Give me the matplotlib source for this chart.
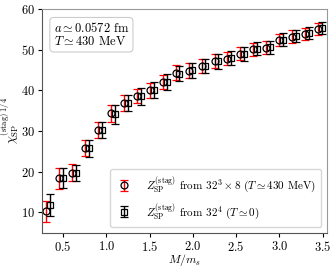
import numpy as np
import matplotlib
matplotlib.use("Agg")
import matplotlib.pyplot as plt

plt.rcParams["font.family"] = "serif"
plt.rcParams["font.serif"] = ["cmr10"]
plt.rcParams["mathtext.fontset"] = "cm"
plt.rcParams["axes.unicode_minus"] = False
plt.rcParams["axes.formatter.use_mathtext"] = True

# M/m_s values for the finite-T set; T=0 set is shifted slightly for readability
mass_ratio = np.arange(22) * 0.15 + 0.3
shift = 0.045

chi_T430 = [10.3, 18.4, 19.8, 25.9, 30.2, 34.3, 36.9, 38.6, 40.0, 42.0, 44.3,
            44.8, 45.9, 47.1, 47.8, 49.0, 50.1, 50.5, 52.4, 53.2, 53.8, 55.0]
err_T430 = [2.6, 2.6, 2.2, 2.0, 2.0, 2.0, 2.0, 1.8, 1.8, 1.8, 1.8,
            1.8, 1.7, 1.7, 1.7, 1.6, 1.6, 1.6, 1.5, 1.5, 1.5, 1.5]

chi_T0 = [11.8, 18.5, 19.7, 25.7, 30.2, 34.1, 36.8, 38.5, 40.0, 42.1, 44.1,
          44.9, 46.0, 47.1, 47.9, 49.0, 50.2, 50.6, 52.4, 53.3, 54.0, 55.3]
err_T0 = [2.8, 2.5, 2.0, 2.2, 2.0, 2.3, 2.0, 2.0, 2.0, 2.0, 1.9,
          1.8, 1.8, 1.8, 1.7, 1.7, 1.6, 1.6, 1.6, 1.5, 1.5, 1.5]

fig = plt.figure(figsize=(3.35, 2.7), dpi=100)
ax = fig.add_axes([0.126, 0.138, 0.850, 0.829])

ax.errorbar(mass_ratio, chi_T430, yerr=err_T430, fmt="o", mfc="none", mec="black",
            ms=5, mew=0.9, ecolor="red", elinewidth=1, capsize=2.8, capthick=1,
            label=r"$Z_{\rm SP}^{({\rm stag})}$ from $32^3\times 8$ ($T\simeq 430$ MeV)")
ax.errorbar(mass_ratio + shift, chi_T0, yerr=err_T0, fmt="s", mfc="none", mec="black",
            ms=5, mew=0.9, ecolor="black", elinewidth=1, capsize=2.8, capthick=1,
            label=r"$Z_{\rm SP}^{({\rm stag})}$ from $32^4$ ($T\simeq 0$)")

ax.set_xlim(0.258, 3.55)
ax.set_ylim(5, 60)
ax.set_xticks([0.5, 1.0, 1.5, 2.0, 2.5, 3.0, 3.5])
ax.set_yticks([10, 20, 30, 40, 50, 60])
ax.tick_params(labelsize=9, length=3, width=0.8, pad=2)
ax.set_xlabel(r"$M/m_s$", fontsize=8.5, labelpad=-1.2)
ax.set_ylabel(r"$\chi_{\rm SP}^{({\rm stag})\,1/4}$", fontsize=9, labelpad=0)

for side in ["left", "bottom"]:
    ax.spines[side].set_color("#555555")
for side in ["top", "right"]:
    ax.spines[side].set_color("#999999")

ax.text(0.04, 0.945, "$a\\simeq 0.0572$ fm\n$T\\simeq 430$ MeV", transform=ax.transAxes,
        fontsize=9, va="top", ha="left", linespacing=1.0,
        bbox=dict(boxstyle="round,pad=0.3", fc="white", ec="#cccccc", lw=0.8))

leg = ax.legend(loc="lower right", fontsize=8, frameon=True, handlelength=1.5,
                borderpad=0.5, labelspacing=0.5, handletextpad=1.2)
leg.get_frame().set_edgecolor("#cccccc")

fig.savefig("out.png", dpi=100)
